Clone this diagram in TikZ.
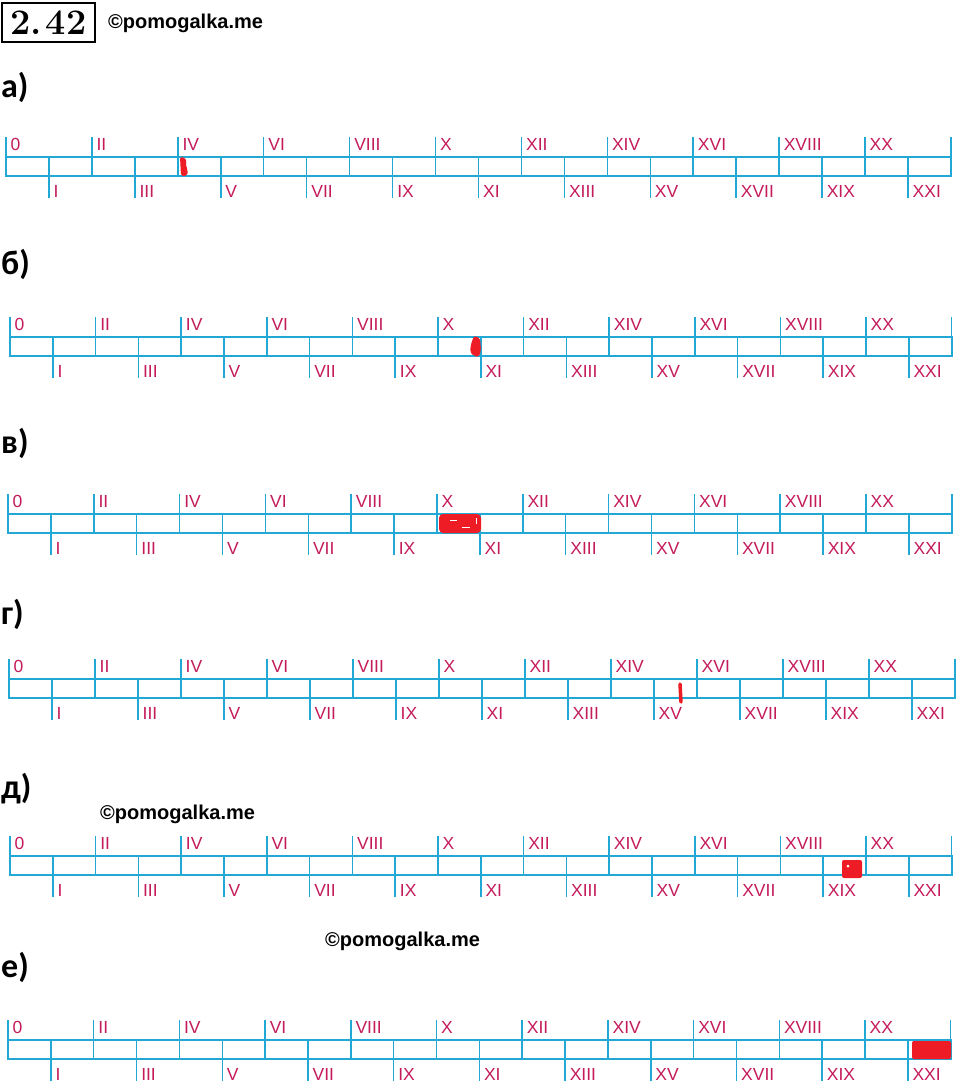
\documentclass[tikz,border=0pt]{standalone}
\usepackage{fontspec}
\newfontfamily\lblfont{Liberation Sans}
\newfontfamily\wmfont{Liberation Sans}
\newfontfamily\hdfont{Carlito}
\definecolor{tl}{HTML}{22A8D4}
\definecolor{lbl}{HTML}{C41B5B}
\definecolor{mk}{HTML}{EE1C25}
\tikzset{
  tlbox/.style={draw=tl,line width=2.2pt},
  tlick/.style={draw=tl,line width=1.5pt},
  evenlbl/.style={anchor=base west,inner sep=0pt,text=lbl,font=\lblfont\fontsize{17.5}{18}\selectfont},
  oddlbl/.style={anchor=base west,inner sep=0pt,text=lbl,font=\lblfont\fontsize{17.5}{18}\selectfont},
  rowletter/.style={anchor=base west,inner sep=0pt,font=\hdfont\bfseries\fontsize{34}{36}\selectfont},
  wmark/.style={anchor=base west,inner sep=0pt,font=\wmfont\bfseries\fontsize{20}{21}\selectfont},
  redmark/.style={fill=mk,draw=none},
}
% #1 name prefix, #2 x0, #3 strip top, #4 unit
\newcommand\tlrow[4]{%
  \begin{scope}[shift={(#2,#3)}]
    \foreach \k/\r in {0/0,2/II,4/IV,6/VI,8/VIII,10/X,12/XII,14/XIV,16/XVI,18/XVIII,20/XX}{
      \draw[tlick] (\k*#4,-20) -- (\k*#4,19);
      \node[evenlbl] (#1e\k) at (\k*#4+4.5,-7) {\r};
    }
    \draw[tlick] (22*#4,-20) -- (22*#4,19);
    \foreach \k/\r in {1/I,3/III,5/V,7/VII,9/IX,11/XI,13/XIII,15/XV,17/XVII,19/XIX,21/XXI}{
      \draw[tlick] (\k*#4,0) -- (\k*#4,41);
      \node[oddlbl] (#1o\k) at (\k*#4+4.5,40) {\r};
    }
    \draw[tlbox] (0,0) rectangle (22*#4,19);
  \end{scope}}
\begin{document}
\begin{tikzpicture}[x=1pt,y=-1pt]
\fill[white] (0,0) rectangle (960,1085);
\useasboundingbox (0,0) rectangle (960,1085);
% header
\node[draw=black,line width=2.4pt,minimum width=93pt,minimum height=39pt,inner sep=0pt,
      font=\bfseries\fontsize{36}{38}\selectfont] (num) at (48.5,22.5) {2.\kern4pt42};
\node[wmark] (wm1) at (108,28) {©pomogalka.me};
% row letters
\node[rowletter] (la) at (1,97) {а)};
\node[rowletter] (lb) at (1,274) {б)};
\node[rowletter] (lc) at (1,453) {в)};
\node[rowletter] (ld) at (1,624) {г)};
\node[rowletter] (le) at (1,798) {д)};
\node[rowletter] (lf) at (1,977) {е)};
% watermarks
\node[wmark] (wm2) at (100,819) {©pomogalka.me};
\node[wmark] (wm3) at (325,946) {©pomogalka.me};
% timelines
\tlrow{a}{6}{157}{42.95}
\tlrow{b}{10}{337}{42.8}
\tlrow{c}{8}{514}{42.9}
\tlrow{d}{9}{679}{43}
\tlrow{e}{10}{856}{42.8}
\tlrow{f}{8}{1040}{42.85}
% red marks
\fill[redmark,rounded corners=2pt] (180,157) -- (186,158) -- (186,167) -- (188,170) -- (187,176) -- (181,176) -- cycle;
\fill[redmark,rounded corners=2pt] (474,336) -- (480,338) -- (481,350) -- (479,357) -- (474,356) -- (470,352) -- (471,344) -- cycle;
\fill[redmark,rounded corners=4pt] (439,514) rectangle (481,533);
\draw[white,line width=1pt] (450,520) -- (457,520) (462,527) -- (470,527) (476,518) -- (476,524);
\draw[mk,line width=3.5pt,line cap=round] (680,684) -- (681,702);
\fill[redmark,rounded corners=2pt] (842,860) rectangle (862,878);
\fill[white] (848,866) circle (1.5);
\fill[redmark,rounded corners=2pt] (912,1041) rectangle (951,1059);
\end{tikzpicture}
\end{document}
